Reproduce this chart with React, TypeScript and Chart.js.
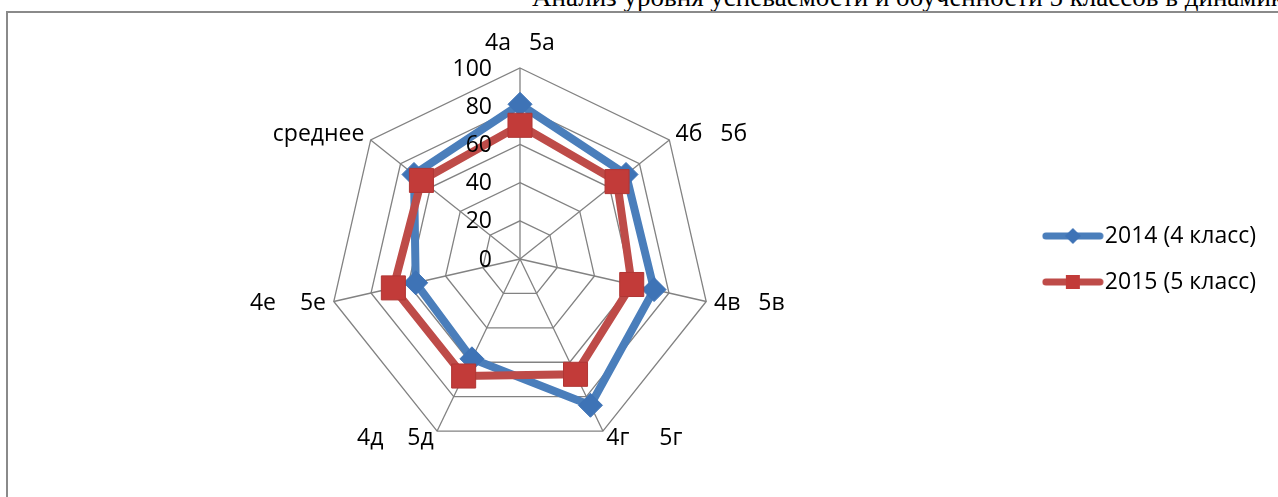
import React, { useEffect, useRef } from "react";
import { Chart, registerables } from "chart.js";

Chart.register(...registerables);

const TITLE = "Анализ уровня успеваемости и обученности 5 классов в динамике";
const CATEGORIES = ["4а   5а", "4б   5б", "4в   5в", "4г     5г", "4д    5д", "4е    5е", "среднее"];
const SERIES_NAMES = ["2014 (4 класс)", "2015 (5 класс)"];
const SERIES_2014 = [81, 71, 72, 85, 58, 56, 71];
const SERIES_2015 = [70, 65, 60, 67, 68, 68, 66];
const TICK_VALUES = [0, 20, 40, 60, 80, 100];

const BLUE = "#4A7EBB";
const BLUE_MARK = "#3E73B6";
const RED = "#BE4B48";
const RED_MARK = "#C23B39";
const GRID = "#828282";
const FONT = "'Open Sans', 'Noto Sans', sans-serif";
const FONT_SIZE = 23;

function makeLegendIcon(color: string, markColor: string, shape: "diamond" | "square") {
  const c = document.createElement("canvas");
  c.width = 62;
  c.height = 26;
  const ctx = c.getContext("2d")!;
  ctx.strokeStyle = color;
  ctx.lineWidth = 7;
  ctx.lineCap = "round";
  ctx.beginPath();
  ctx.moveTo(4, 13);
  ctx.lineTo(58, 13);
  ctx.stroke();
  ctx.fillStyle = markColor;
  if (shape === "diamond") {
    ctx.beginPath();
    ctx.moveTo(31, 5);
    ctx.lineTo(39, 13);
    ctx.lineTo(31, 21);
    ctx.lineTo(23, 13);
    ctx.closePath();
    ctx.fill();
  } else {
    ctx.fillRect(24, 6, 14, 14);
  }
  return c;
}

const labelsPlugin = {
  id: "excelLabels",
  afterDatasetsDraw(chart: any) {
    const scale = chart.scales.r;
    const ctx = chart.ctx as CanvasRenderingContext2D;
    ctx.save();
    ctx.font = `${FONT_SIZE}px ${FONT}`;
    ctx.fillStyle = "#000";
    ctx.textBaseline = "middle";
    ctx.textAlign = "right";
    scale.ticks.forEach((t: any) => {
      const d = scale.getDistanceFromCenterForValue(t.value);
      ctx.fillText(String(t.value), scale.xCenter - 28, scale.yCenter - d + 1);
    });
    const labels: string[] = chart.data.labels;
    labels.forEach((lab, i) => {
      const p = scale.getPointPosition(i, scale.drawingArea + 8);
      const angle = scale.getIndexAngle(i);
      const s = Math.sin(angle);
      const c = Math.cos(angle);
      ctx.textAlign = s > 0.1 ? "left" : s < -0.1 ? "right" : "center";
      let y = p.y;
      if (c > 0.95) y -= 17;
      ctx.fillText(lab, p.x, y);
    });
    ctx.restore();
  },
};

export default function App() {
  const ref = useRef<HTMLCanvasElement>(null);

  useEffect(() => {
    if (!ref.current) return;
    const icons = [
      makeLegendIcon(BLUE, BLUE_MARK, "diamond"),
      makeLegendIcon(RED, RED_MARK, "square"),
    ];
    const chart = new Chart(ref.current, {
      type: "radar",
      data: {
        labels: CATEGORIES,
        datasets: [
          {
            label: SERIES_NAMES[0],
            data: SERIES_2014,
            borderColor: BLUE,
            backgroundColor: BLUE,
            borderWidth: 8,
            fill: false,
            pointStyle: "rectRot",
            pointRadius: 12,
            pointHoverRadius: 12,
            pointBackgroundColor: BLUE_MARK,
            pointBorderColor: BLUE_MARK,
            pointBorderWidth: 1,
            order: 1,
          },
          {
            label: SERIES_NAMES[1],
            data: SERIES_2015,
            borderColor: RED,
            backgroundColor: RED,
            borderWidth: 8,
            fill: false,
            pointStyle: "rect",
            pointRadius: 17,
            pointHoverRadius: 17,
            pointBackgroundColor: RED_MARK,
            pointBorderColor: "#B03634",
            pointBorderWidth: 1,
            order: 0,
          },
        ],
      },
      options: {
        responsive: false,
        maintainAspectRatio: false,
        animation: false,
        layout: { padding: { left: 3.5, right: 12, top: 55, bottom: 47 } },
        scales: {
          r: {
            min: 0,
            max: 100,
            afterBuildTicks: (scale: any) => {
              scale.ticks = TICK_VALUES.map((v) => ({ value: v }));
            },
            ticks: { display: false, stepSize: 20 },
            pointLabels: { display: false },
            grid: { color: GRID, lineWidth: 1.3 },
            angleLines: { color: GRID, lineWidth: 1.3 },
          },
        },
        plugins: {
          title: { display: false },
          tooltip: { enabled: false },
          legend: {
            position: "right",
            labels: {
              usePointStyle: true,
              pointStyleWidth: 41,
              padding: 23,
              color: "#000",
              font: { family: FONT, size: FONT_SIZE },
              generateLabels: (ch: any) =>
                ch.data.datasets.map((ds: any, i: number) => ({
                  text: ds.label,
                  pointStyle: icons[i],
                  datasetIndex: i,
                  hidden: false,
                  lineWidth: 0,
                  fillStyle: "transparent",
                  strokeStyle: "transparent",
                  fontColor: "#000",
                })),
            },
          },
        },
      } as any,
      plugins: [labelsPlugin],
    });
    return () => chart.destroy();
  }, []);

  return (
    <div style={{ position: "fixed", inset: 0, overflow: "hidden", background: "#fff" }}>
      <div
        style={{
          position: "absolute",
          left: 532,
          top: -16,
          fontFamily: "'Liberation Serif', serif",
          fontSize: 27,
          lineHeight: "27px",
          whiteSpace: "nowrap",
          color: "#000",
        }}
      >
        {TITLE}
      </div>
      <div
        style={{
          position: "absolute",
          left: 6,
          top: 11,
          width: 1400,
          height: 600,
          borderLeft: "2px solid #8a8a8a",
          borderTop: "2px solid #8a8a8a",
        }}
      />
      <canvas
        ref={ref}
        width={1270}
        height={484}
        style={{ position: "absolute", left: 8, top: 13, width: 1270, height: 484 }}
      />
    </div>
  );
}
